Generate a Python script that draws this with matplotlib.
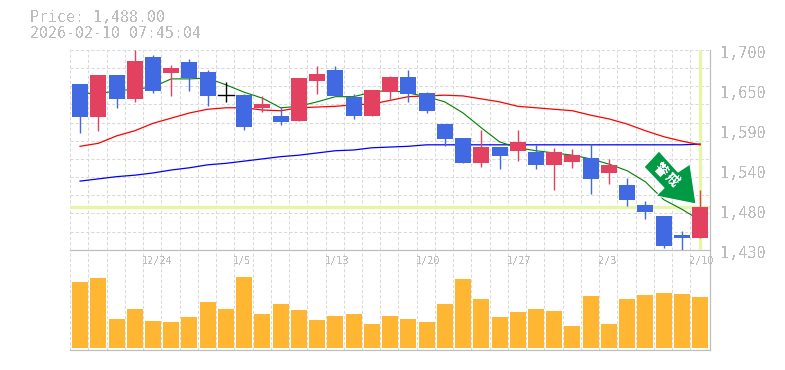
import matplotlib
matplotlib.use('Agg')
import matplotlib.pyplot as plt
from matplotlib.patches import Polygon
from matplotlib.transforms import Affine2D

opens = [1654,1610,1666,1634,1691,1669,1684,1670,1639,1639,1622,1611,1604,1658,1673,1637,1611,1643,1664,1642,
         1600,1581,1547,1569,1564,1562,1545,1549,1554,1534,1518,1491,1476,1450,1446]
closes = [1610,1666,1634,1685,1645,1676,1662,1638,1639,1596,1627,1603,1662,1668,1638,1611,1646,1664,1641,1618,
          1580,1547,1569,1557,1576,1545,1562,1558,1526,1545,1498,1481,1435,1446,1488]
highs = [1654,1666,1666,1700,1693,1680,1688,1673,1657,1641,1638,1623,1662,1678,1678,1641,1646,1665,1673,1643,
         1600,1581,1592,1569,1592,1572,1568,1566,1573,1553,1527,1496,1476,1456,1511]
lows = [1588,1591,1622,1630,1642,1638,1645,1624,1630,1592,1616,1599,1604,1641,1638,1607,1611,1634,1630,1615,
        1570,1547,1542,1539,1550,1539,1511,1541,1506,1519,1489,1472,1433,1430,1446]
ma_short = [1642,1641,1645,1647,1650,1661,1661,1662,1653,1643,1635,1622,1624,1630,1637,1637,1643,1646,1642,1637,
            1630,1615,1595,1576,1568,1564,1561,1558,1553,1546,1537,1522,1498,1485,1470]
ma_mid = [1570,1574,1584,1591,1601,1608,1615,1620,1622,1622,1619,1618,1622,1623,1624,1626,1627,1632,1637,1638,
          1639,1638,1634,1630,1624,1622,1620,1618,1612,1607,1600,1591,1583,1577,1572]
ma_long = [1523,1526,1529,1531,1534,1538,1541,1545,1547,1550,1553,1556,1558,1561,1564,1565,1568,1569,1570,1572,
           1572,1572,1572,1572,1572,1572,1572,1572,1572,1572,1572,1572,1572,1572,1573]
volume = [663,703,293,393,273,263,313,463,393,713,343,443,383,283,323,343,243,323,293,263,
          443,693,493,313,363,393,373,223,523,243,493,533,553,543,513]
date_idx = [4,9,14,19,24,29,34]
date_labels = ['12/24','1/5','1/13','1/20','1/27','2/3','2/10']
price_ticks = [1700,1646,1592,1538,1484,1430]
price_labels = ['1,700','1,650','1,590','1,540','1,480','1,430']
last_price = 1488

GRAY = '#bcbcbc'
BLUE = '#4169e1'
RED = '#e2415f'
HILITE = '#e6f5a8'
GRID = '#d9d9d9'
plt.rcParams['font.family'] = ['DejaVu Sans Mono', 'Noto Sans CJK JP']
plt.rcParams['text.antialiased'] = False

W, H = 785, 370
fig = plt.figure(figsize=(W/100, H/100), dpi=100)
ax = fig.add_axes([70/W, 1-250/H, 640/W, 200/H])
vol = fig.add_axes([70/W, 1-350/H, 640/W, 100/H], sharex=ax)
vol.patch.set_visible(False)
ax.set_ylim(1430, 1700)
vol.set_ylim(-20, 980)
ax.set_xlim(-0.55, 34.54)

for a in (ax, vol):
    a.set_axisbelow(True)
    a.set_xticks([i-0.54 for i in range(35)])
    a.tick_params(length=0, labelbottom=False, labelleft=False)
    a.grid(axis='x', color=GRID, ls=(0, (3, 2)), lw=0.75)
    for s in ('left', 'top'):
        a.spines[s].set_visible(False)
    for s in ('right', 'bottom'):
        a.spines[s].set_color(GRAY)
        a.spines[s].set_linewidth(0.85)
ax.set_yticks([1700-13.5*1.815*i for i in range(11)])
ax.grid(axis='y', color=GRID, ls=(0, (3, 2)), lw=0.75)

# highlight of the last price and last day
ax.axhline(last_price, color=HILITE, lw=2.4, zorder=1)
ax.plot([34, 34], [1431, 1700], color=HILITE, lw=2.4, zorder=1, solid_capstyle='butt')

x = list(range(35))
ax.plot(x, ma_long, color='#0000ff', lw=0.9, zorder=2)
ax.plot(x, ma_mid, color='#ff0000', lw=0.9, zorder=2)
ax.plot(x, ma_short, color='#008000', lw=0.8, zorder=2)

for i in x:
    c = RED if closes[i] > opens[i] else BLUE
    if closes[i] == opens[i]:
        c = 'black'
        ax.plot([i-0.44, i+0.44], [opens[i], opens[i]], color=c, lw=1.0, zorder=3)
    ax.plot([i, i], [lows[i], highs[i]], color=c, lw=1.0, zorder=3, solid_capstyle='butt')
    ax.bar(i, abs(closes[i]-opens[i]), 0.877, bottom=min(opens[i], closes[i]), color=c, zorder=4)

vol.bar(x, volume, 0.877, color='#ffb733', zorder=3)

for i, t in zip(date_idx, date_labels):
    vol.annotate(t, (i, 1), xycoords=('data', 'axes fraction'), xytext=(-11, -11),
                 textcoords='offset pixels', color=GRAY, fontsize=7.4, va='center', ha='left')
for v, t in zip(price_ticks, price_labels):
    ax.annotate(t, (1, v), xycoords=('axes fraction', 'data'), xytext=(10, -3),
                textcoords='offset pixels', color=GRAY, fontsize=11, va='center', ha='left', clip_on=False)

fig.text(30/W, 1-18/H, 'Price: 1,488.00', color=GRAY, fontsize=10.7, va='center')
fig.text(30/W, 1-33/H, '2026-02-10 07:45:04', color=GRAY, fontsize=10.7, va='center')

# signal arrow, placed in pixel position like the badge in the original
to_px = Affine2D().scale(1, -1).translate(0, H)
arrow = [(659, 151), (644, 167), (664, 188), (656, 196), (696, 204), (690, 164), (678, 172)]
fig.add_artist(Polygon(arrow, closed=True, facecolor='#009944', edgecolor='white', lw=0.8,
                       transform=to_px, zorder=6))
for (tx, ty), g in zip([(660, 170), (672, 180)], ['警', '戒']):
    fig.text(tx/W, 1-ty/H, g, color='white', fontsize=10, rotation=-45, ha='center', va='center',
             family=['Noto Sans CJK JP'], fontweight='bold', zorder=7)

fig.savefig('out.png', dpi=100, facecolor='white')
